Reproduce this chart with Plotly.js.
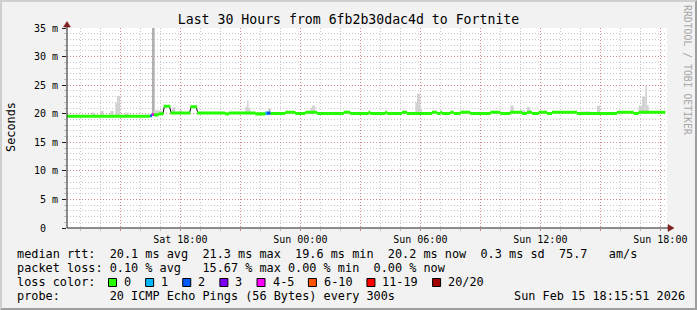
<!DOCTYPE html>
<html><head><meta charset="utf-8">
<script src="https://cdn.plot.ly/plotly-3.0.1.min.js"></script>
<style>
html,body{margin:0;padding:0;background:#f2f2f2;}
#wrap{position:relative;width:697px;height:310px;overflow:hidden;}
#chart{position:absolute;left:0;top:0;width:697px;height:310px;}
#frame{position:absolute;left:0;top:0;width:697px;height:310px;box-sizing:border-box;border-top:2px solid #cfcfcf;border-left:2px solid #cfcfcf;border-right:2px solid #9e9e9e;border-bottom:2px solid #9e9e9e;pointer-events:none;}
</style></head><body>
<div id="wrap"><div id="chart"></div><div id="frame"></div></div>
<script>
// ---- data ----
const rangeStart = "2026-02-14 12:20";
const rangeEnd   = "2026-02-15 18:20";
const dataEnd    = "2026-02-15 18:15";

// median RTT segments (ms) and lost pings (of 20)
const segStart = [
 "2026-02-14 12:20","2026-02-14 16:30","2026-02-14 16:35","2026-02-14 16:40","2026-02-14 16:55",
 "2026-02-14 17:10","2026-02-14 17:30","2026-02-14 18:30","2026-02-14 18:50","2026-02-14 20:15",
 "2026-02-14 20:25","2026-02-14 21:45","2026-02-14 22:15","2026-02-14 22:20","2026-02-14 22:30",
 "2026-02-14 23:15","2026-02-14 23:45","2026-02-15 00:15","2026-02-15 00:50","2026-02-15 02:10",
 "2026-02-15 02:30","2026-02-15 03:25","2026-02-15 03:30","2026-02-15 04:15","2026-02-15 04:20",
 "2026-02-15 05:05","2026-02-15 05:20","2026-02-15 06:35","2026-02-15 06:50","2026-02-15 07:00",
 "2026-02-15 07:05","2026-02-15 07:30","2026-02-15 07:40","2026-02-15 08:00","2026-02-15 08:30",
 "2026-02-15 09:30","2026-02-15 10:00","2026-02-15 10:30","2026-02-15 11:05","2026-02-15 11:20",
 "2026-02-15 11:35","2026-02-15 11:55","2026-02-15 12:20","2026-02-15 12:35","2026-02-15 13:50",
 "2026-02-15 15:50","2026-02-15 16:40","2026-02-15 16:55"
];
const segMedian = [
 19.57,19.65,19.86,19.80,20.00,
 21.30,20.12,21.22,20.12,19.97,
 20.12,19.97,20.10,20.10,20.05,
 20.25,20.05,20.25,20.05,20.25,
 20.05,20.25,20.05,20.25,20.05,
 20.25,20.05,20.25,20.05,20.25,
 20.05,20.25,20.05,20.25,20.05,
 20.25,20.05,20.25,20.05,20.25,
 20.05,20.25,20.05,20.25,20.05,
 20.25,20.05,20.25
];
const segLoss = [
 0,2,5,0,0,
 0,0,0,0,0,
 0,0,1,2,0,
 0,0,0,0,0,
 0,0,0,0,0,
 0,0,0,0,0,
 0,0,0,0,0,
 0,0,0,0,0,
 0,0,0,0,0,
 0,0,0
];

// smoke (ping spread) where it rises above the median band
const smokeStart = [
 "2026-02-14 13:35","2026-02-14 14:00","2026-02-14 14:30","2026-02-14 14:45","2026-02-14 14:50",
 "2026-02-14 15:15","2026-02-14 16:35","2026-02-14 16:40","2026-02-14 17:35","2026-02-14 17:55",
 "2026-02-14 21:15","2026-02-14 21:20","2026-02-14 21:25","2026-02-14 22:25","2026-02-15 00:30",
 "2026-02-15 00:35","2026-02-15 05:10","2026-02-15 05:45","2026-02-15 05:50","2026-02-15 06:00",
 "2026-02-15 10:30","2026-02-15 11:00","2026-02-15 11:20","2026-02-15 14:00","2026-02-15 14:50",
 "2026-02-15 16:00","2026-02-15 16:55","2026-02-15 17:05","2026-02-15 17:15","2026-02-15 17:20"
];
const smokeMinutes = [10,10,10,5,10, 10,8,25,10,10, 5,5,5,5,5, 10,5,5,10,5, 10,15,10,30,10, 5,10,10,5,5];
const smokeLow  = [19.5,19.5,19.5,19.5,19.5, 19.5,19.6,19.8,20.0,20.0, 20.0,20.0,20.0,20.0,20.0,
                   20.0,20.0,20.0,20.0,20.0, 20.0,20.0,20.0,20.0,20.0, 20.0,20.0,20.0,20.0,20.0];
const smokeHigh = [20.2,20.5,20.5,21.9,23.1, 20.2,36.0,20.6,21.1,20.6, 21.2,22.3,21.0,20.9,21.0,
                   21.4,20.4,22.0,23.5,21.0, 21.4,20.6,21.2,20.4,21.4, 20.4,21.4,23.0,24.9,21.5];

const xTickVals = ["2026-02-14 15:00","2026-02-14 18:00","2026-02-14 21:00","2026-02-15 00:00","2026-02-15 03:00",
                   "2026-02-15 06:00","2026-02-15 09:00","2026-02-15 12:00","2026-02-15 15:00","2026-02-15 18:00"];
const xTickText = ["","Sat 18:00","","Sun 00:00","","Sun 06:00","","Sun 12:00","","Sun 18:00"];
const yTickVals = [0,5,10,15,20,25,30,35];
const yTickText = ["0\u00a0\u00a0","5 m","10 m","15 m","20 m","25 m","30 m","35 m"];

const lossLabels = ["0","1","2","3","4-5","6-10","11-19","20/20"];
const lossUpper  = [0,1,2,3,5,10,19,20];

const legendRows = [
 "median rtt:  20.1 ms avg  21.3 ms max  19.6 ms min  20.2 ms now  0.3 ms sd  75.7   am/s",
 "packet loss: 0.10 % avg   15.67 % max 0.00 % min  0.00 % now",
 "loss color:",
 "probe:       20 ICMP Echo Pings (56 Bytes) every 300s"
];
const stampText = "Sun Feb 15 18:15:51 2026";
const titleText = "Last 30 Hours from 6fb2b30dac4d to Fortnite";

// ---- styles ----
const lossColors = ["#26ff00","#00b8ff","#0059ff","#7e00ff","#ff00ff","#ff5500","#ff0000","#a10000"];
const MONO = "DejaVu Sans Mono";
const L = 67, R = 667, T = 28, B = 228;
const px = x => (x - L) / (R - L);
const py = y => (B - y) / (B - T);

function toMs(s){
  const [d,t] = s.split(' ');
  const [Y,M,D] = d.split('-').map(Number);
  const [h,m] = t.split(':').map(Number);
  return Date.UTC(Y, M-1, D, h, m);
}
function lossIndex(n){
  for (let i=0;i<lossUpper.length;i++) if (n <= lossUpper[i]) return i;
  return lossUpper.length-1;
}

const starts = segStart.map(toMs);
const ends = starts.slice(1).concat([toMs(dataEnd)]);
const half = 0.27;

// black median line (step centres)
const lineX = [], lineY = [];
starts.forEach((s,i)=>{
  lineX.push(s + 150000, ends[i] - 150000);
  lineY.push(segMedian[i], segMedian[i]);
});

// smoke
const sX = smokeStart.map(toMs);
const sW = smokeMinutes.map(m => m*60000);
const sColor = sX.map((s,i)=>{
  const e = s + sW[i];
  let lossy = false;
  starts.forEach((st,j)=>{ if (segLoss[j]>0 && st < e && ends[j] > s) lossy = true; });
  return lossy ? "#b0b0b0" : "#d2d2d2";
});

const traces = [
 { type:'bar', x:sX, width:sW, offset:0, base:smokeLow, y:smokeHigh.map((h,i)=>h-smokeLow[i]),
   marker:{color:sColor, line:{width:0}}, hoverinfo:'skip' },
 { type:'scatter', mode:'lines', x:lineX, y:lineY, line:{color:'#000000', width:1}, hoverinfo:'skip' }
];
// loss-coloured median band, one polygon set per loss colour, drawn above the black line
lossColors.forEach((c,ci)=>{
  const bx = [], by = [];
  starts.forEach((s,i)=>{
    if (lossIndex(segLoss[i]) !== ci) return;
    const lo = segMedian[i]-half, hi = segMedian[i]+half;
    bx.push(s, ends[i], ends[i], s, s, null);
    by.push(lo, lo, hi, hi, lo, null);
  });
  if (bx.length) traces.push({type:'scatter', mode:'none', x:bx, y:by, fill:'toself', fillcolor:c,
    line:{width:0}, hoverinfo:'skip', connectgaps:false});
});

const gridMajor = 'rgba(222,79,79,0.5)';
const gridMinor = 'rgba(143,143,143,0.5)';

const annotations = [];
const shapes = [];
const rowY = [253.5, 267.7, 281.9, 296.1];
legendRows.forEach((t,i)=>{
  annotations.push({xref:'paper', yref:'paper', x:px(16), y:py(rowY[i]), xanchor:'left', yanchor:'middle',
    text:t.replace(/ /g,'\u00a0'), showarrow:false, borderpad:0, font:{family:MONO, size:11.85, color:'#000'}});
});
annotations.push({xref:'paper', yref:'paper', x:px(513), y:py(rowY[3]), xanchor:'left', yanchor:'middle',
  text:stampText.replace(/ /g,'\u00a0'), showarrow:false, borderpad:0, font:{family:MONO, size:11.85, color:'#000'}});
// loss colour legend
let lx = 108;
lossLabels.forEach((lab,i)=>{
  shapes.push({type:'rect', xref:'paper', yref:'paper', x0:px(lx+0.5), x1:px(lx+8.5), y0:py(278.5), y1:py(286.5),
    fillcolor:lossColors[i], line:{color:'#000', width:1}});
  annotations.push({xref:'paper', yref:'paper', x:px(lx+15), y:py(rowY[2]), xanchor:'left', yanchor:'middle',
    text:lab, showarrow:false, borderpad:0, font:{family:MONO, size:11.85, color:'#000'}});
  lx += 15 + 7.13*lab.length + 15;
});
// axis title & side text
annotations.push({xref:'paper', yref:'paper', x:px(11), y:py(127), xanchor:'center', yanchor:'middle', textangle:-90,
  text:'Seconds', showarrow:false, borderpad:0, font:{family:MONO, size:11.85, color:'#000'}});
annotations.push({xref:'paper', yref:'paper', x:px(688), y:py(70), xanchor:'center', yanchor:'middle', textangle:90,
  text:'RRDTOOL / TOBI OETIKER'.replace(/ /g,'\u00a0'), showarrow:false, borderpad:0, font:{family:MONO, size:9.8, color:'#a8a8a8'}});

// axis lines and arrows
shapes.push({type:'line', xref:'paper', yref:'paper', x0:px(67), x1:px(67), y0:py(228), y1:py(25), line:{color:'#1f1f1f', width:1}});
shapes.push({type:'line', xref:'paper', yref:'paper', x0:px(67), x1:px(670), y0:py(228), y1:py(228), line:{color:'#1f1f1f', width:1}});
shapes.push({type:'path', xref:'paper', yref:'paper', fillcolor:'#801f1f', line:{color:'#801f1f', width:0.5},
  path:`M ${px(63.5)} ${py(27)} L ${px(70.5)} ${py(27)} L ${px(67)} ${py(21.5)} Z`});
shapes.push({type:'path', xref:'paper', yref:'paper', fillcolor:'#801f1f', line:{color:'#801f1f', width:0.5},
  path:`M ${px(668)} ${py(224.5)} L ${px(668)} ${py(231.5)} L ${px(674)} ${py(228)} Z`});

const layout = {
  width:697, height:310,
  margin:{l:L, r:697-R, t:T, b:310-B, pad:0},
  paper_bgcolor:'#f2f2f2', plot_bgcolor:'#ffffff',
  showlegend:false, barmode:'overlay', hovermode:false,
  font:{family:MONO, size:10, color:'#000'},
  title:{text:titleText, font:{family:MONO, size:13.2, color:'#000'}, xref:'container', x:0.5, xanchor:'center',
         yref:'container', y:1-19.4/310, yanchor:'middle'},
  xaxis:{type:'date', range:[toMs(rangeStart), toMs(rangeEnd)], tickmode:'array',
    tickvals:xTickVals.map(toMs), ticktext:xTickText, showgrid:true, gridcolor:gridMajor, griddash:'1px,2px', gridwidth:1,
    ticks:'outside', ticklen:2, tickcolor:gridMajor, showline:false, zeroline:false, tickfont:{size:10},
    minor:{dtick:3600000, tick0:toMs("2026-02-14 00:00"), showgrid:true, gridcolor:gridMinor, griddash:'1px,2px', gridwidth:1,
      ticks:'outside', ticklen:2, tickcolor:gridMinor},
    fixedrange:true},
  yaxis:{range:[0,35], tickmode:'array', tickvals:yTickVals, ticktext:yTickText, showgrid:true, gridcolor:gridMajor,
    griddash:'1px,2px', gridwidth:1, ticks:'outside', ticklen:4, tickcolor:'#1f1f1f', showline:false, zeroline:false,
    tickfont:{size:10}, ticklabelstandoff:2,
    minor:{dtick:1, showgrid:true, gridcolor:gridMinor, griddash:'1px,2px', gridwidth:1, ticks:'outside', ticklen:2, tickcolor:gridMinor},
    fixedrange:true},
  annotations, shapes
};

Plotly.newPlot('chart', traces, layout, {displayModeBar:false, staticPlot:true});
</script>
</body></html>
